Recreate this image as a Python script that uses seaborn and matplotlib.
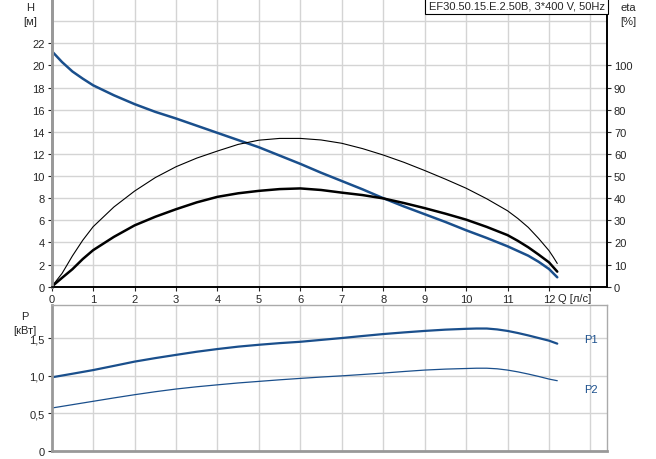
import numpy as np
import pandas as pd
import seaborn as sns
import matplotlib.pyplot as plt

# pump curve values
q_h = [0, 0.25, 0.5, 0.75, 1, 1.5, 2, 2.5, 3, 3.5, 4, 4.5, 5, 5.5, 6, 6.5, 7, 7.5, 8, 8.5,
       9, 9.5, 10, 10.5, 11, 11.5, 11.75, 12, 12.2]
head = [21.3, 20.3, 19.45, 18.8, 18.2, 17.3, 16.5, 15.8, 15.2, 14.55, 13.9, 13.25, 12.6, 11.85,
        11.1, 10.3, 9.55, 8.8, 8.0, 7.25, 6.55, 5.85, 5.1, 4.4, 3.65, 2.8, 2.25, 1.6, 0.85]

q_eta = [0, 0.25, 0.5, 0.75, 1, 1.5, 2, 2.5, 3, 3.5, 4, 4.5, 5, 5.5, 6, 6.5, 7, 7.5, 8, 8.5,
         9, 9.5, 10, 10.5, 11, 11.25, 11.5, 11.75, 12, 12.1, 12.2]
eta_thin = [0, 6, 13.9, 21, 27.1, 36, 43.2, 49.3, 54.2, 58.1, 61.3, 64.3, 66.2, 67, 67, 66.3,
            64.8, 62.4, 59.5, 56.2, 52.5, 48.6, 44.5, 39.7, 34.3, 30.8, 26.8, 21.8, 16.3, 13.5, 10.5]
eta_thick = [0, 4, 7.9, 12.5, 16.5, 22.5, 27.7, 31.6, 35, 38.1, 40.6, 42.2, 43.3, 44.1, 44.4,
             43.7, 42.5, 41.4, 39.9, 37.8, 35.5, 33.0, 30.3, 27.0, 23.3, 20.7, 17.8, 14.5, 11, 8.9, 6.8]

q_p = [0, 0.5, 1, 1.5, 2, 2.5, 3, 3.5, 4, 4.5, 5, 5.5, 6, 6.5, 7, 7.5, 8, 8.5, 9, 9.5,
       10, 10.25, 10.5, 10.75, 11, 11.25, 11.5, 11.75, 12, 12.1, 12.2]
p1 = [0.98, 1.028, 1.077, 1.133, 1.19, 1.237, 1.28, 1.322, 1.358, 1.39, 1.415, 1.437, 1.455,
      1.48, 1.505, 1.532, 1.558, 1.58, 1.60, 1.617, 1.628, 1.632, 1.632, 1.62, 1.60, 1.572,
      1.54, 1.505, 1.47, 1.45, 1.43]
p2 = [0.57, 0.615, 0.66, 0.705, 0.748, 0.788, 0.824, 0.854, 0.88, 0.905, 0.926, 0.947, 0.966,
      0.984, 1.0, 1.018, 1.037, 1.058, 1.077, 1.09, 1.098, 1.102, 1.102, 1.094, 1.077, 1.053,
      1.024, 0.992, 0.957, 0.946, 0.935]

x_ticks = list(range(0, 14))
h_ticks = list(range(0, 23, 2))
eta_ticks = list(range(0, 101, 10))
p_ticks = [0, 0.5, 1.0, 1.5]
p_labels = ['0', '0,5', '1,0', '1,5']

df_h = pd.DataFrame({'Q': q_h, 'H': head})
df_eta = pd.DataFrame({'Q': q_eta, 'thin': eta_thin, 'thick': eta_thick})
df_p = pd.DataFrame({'Q': q_p, 'P1': p1, 'P2': p2})

sns.set_style('white')
plt.rcParams['font.family'] = ['Liberation Sans', 'DejaVu Sans']

blue = '#1a4f8c'
grid_c = '#d4d4d4'

fig = plt.figure(figsize=(6.56, 4.6), dpi=100)

# top panel: H and eta
ax_h = fig.add_axes([0.0788, 0.3746, 0.8465, 0.6254])
ax_eta = ax_h.twinx()

sns.lineplot(data=df_eta, x='Q', y='thin', color='black', lw=0.8, ax=ax_eta)
sns.lineplot(data=df_eta, x='Q', y='thick', color='black', lw=1.8, ax=ax_eta)
sns.lineplot(data=df_h, x='Q', y='H', color=blue, lw=1.8, ax=ax_h)

ax_h.set_xlim(0, 13.4)
ax_h.set_ylim(0, 26)
ax_eta.set_ylim(0, 130)
ax_h.set_xticks(x_ticks)
ax_h.set_xticklabels([str(t) for t in x_ticks[:-1]] + [''])
ax_h.set_yticks(h_ticks)
ax_eta.set_yticks(eta_ticks)
for t in x_ticks:
    ax_h.axvline(t, color=grid_c, lw=1, zorder=0)
for t in range(0, 26, 2):
    ax_h.axhline(t, color=grid_c, lw=1, zorder=0)
ax_h.set_xlabel('')
ax_h.set_ylabel('')
ax_eta.set_ylabel('')
ax_h.tick_params(labelsize=8, length=3, width=0.8, direction='out', pad=2)
ax_eta.tick_params(labelsize=8, length=3, width=0.8, direction='out', pad=2)
ax_h.tick_params(axis='x', bottom=True, length=3)
ax_h.tick_params(axis='y', left=True)
ax_eta.tick_params(axis='y', right=True)

for ax in (ax_h, ax_eta):
    ax.spines['top'].set_visible(False)
    ax.spines['left'].set_color('#999999')
    ax.spines['left'].set_linewidth(2)
    ax.spines['bottom'].set_color('black')
    ax.spines['bottom'].set_linewidth(1.2)
    ax.spines['right'].set_color('black')
    ax.spines['right'].set_linewidth(1.2)

ax_h.text(12.62, -0.55, 'Q [л/с]', ha='center', va='top', fontsize=8)
fig.text(0.046, 0.993, 'H', ha='center', va='top', fontsize=8)
fig.text(0.046, 0.963, '[м]', ha='center', va='top', fontsize=8)
fig.text(0.958, 0.993, 'eta', ha='center', va='top', fontsize=8)
fig.text(0.958, 0.963, '[%]', ha='center', va='top', fontsize=8)
fig.text(0.922, 0.985, 'EF30.50.15.E.2.50B, 3*400 V, 50Hz', ha='right', va='center',
         fontsize=8, bbox=dict(facecolor='white', edgecolor='black', lw=0.8, pad=2.5))

# bottom panel: power
ax_p = fig.add_axes([0.0788, 0.018, 0.8465, 0.3174])
sns.lineplot(data=df_p, x='Q', y='P1', color=blue, lw=1.6, ax=ax_p)
sns.lineplot(data=df_p, x='Q', y='P2', color=blue, lw=0.9, ax=ax_p)
ax_p.set_xlim(0, 13.4)
ax_p.set_ylim(0, 1.95)
ax_p.set_xticks(x_ticks)
ax_p.set_xticklabels([])
ax_p.set_yticks(p_ticks)
ax_p.set_yticklabels(p_labels)
for t in x_ticks:
    ax_p.axvline(t, color=grid_c, lw=1, zorder=0)
for t in p_ticks:
    ax_p.axhline(t, color=grid_c, lw=1, zorder=0)
ax_p.set_xlabel('')
ax_p.set_ylabel('')
ax_p.tick_params(labelsize=8, length=3, width=0.8, direction='out', pad=2)
ax_p.tick_params(axis='y', left=True)
ax_p.tick_params(axis='x', bottom=False)
for side in ('top', 'right'):
    ax_p.spines[side].set_color('#aaaaaa')
    ax_p.spines[side].set_linewidth(1)
for side in ('left', 'bottom'):
    ax_p.spines[side].set_color('#999999')
    ax_p.spines[side].set_linewidth(2)

ax_p.text(12.85, 1.49, 'P1', color=blue, ha='left', va='center', fontsize=8)
ax_p.text(12.85, 0.82, 'P2', color=blue, ha='left', va='center', fontsize=8)
fig.text(0.038, 0.322, 'P', ha='center', va='top', fontsize=8)
fig.text(0.038, 0.292, '[кВт]', ha='center', va='top', fontsize=8)

fig.savefig('out.png', dpi=100)
